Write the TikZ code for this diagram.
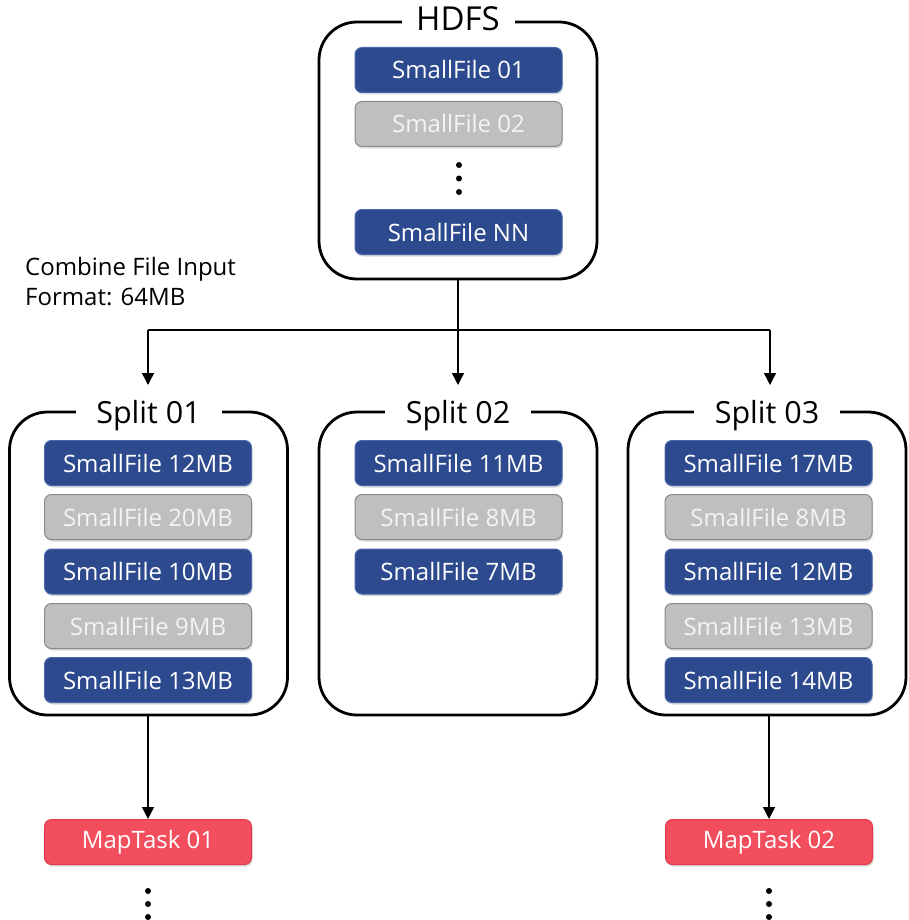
\documentclass[tikz,border=0pt]{standalone}
\usepackage{fontspec}
\setmainfont{Open Sans}
\usetikzlibrary{arrows.meta,shadows}
\definecolor{fileblue}{HTML}{2C4A8D}
\definecolor{fileedge}{HTML}{4867AC}
\definecolor{filegray}{HTML}{BFBFBF}
\definecolor{grayedge}{HTML}{8A8A8A}
\definecolor{graytext}{HTML}{F4F4F4}
\definecolor{taskred}{HTML}{F34E5D}
\definecolor{taskedge}{HTML}{DE3A4A}
\begin{document}
\begin{tikzpicture}[x=1pt,y=-1pt,
  filebox/.style={rounded corners=7pt, minimum width=207pt, minimum height=45pt,
    inner sep=0pt, text=white, line width=1pt, font=\fontsize{24}{24}\selectfont,
    drop shadow={opacity=0.3, shadow xshift=1pt, shadow yshift=-2pt}},
  bluefile/.style={filebox, fill=fileblue, draw=fileedge},
  grayfile/.style={filebox, fill=filegray, draw=grayedge, text=graytext},
  taskbox/.style={filebox, fill=taskred, draw=taskedge},
  group/.style={draw, line width=2.8pt, rounded corners=38pt, minimum width=278pt},
  grouptitle/.style={fill=white, anchor=base, inner xsep=0pt, inner ysep=0pt,
    font=\fontsize{30.5}{30.5}\selectfont},
  wire/.style={line width=1.4pt},
  flow/.style={wire, -{Triangle[width=12pt,length=12pt]}},
  dot/.style={circle, fill=black, inner sep=0pt, minimum size=6pt}]

\fill[white] (0,0) rectangle (908,920);
\useasboundingbox (0,0) rectangle (908,920);

% HDFS store
\node[group, minimum height=257pt] (hdfs) at (458,150.5) {};
\node[grouptitle, minimum width=113pt, font=\fontsize{33}{33}\selectfont] (hdfstitle)
  at ([yshift=-10pt]hdfs.north) {HDFS};
\node[bluefile] (h1) at (458.5,70) {SmallFile 01};
\node[grayfile] (h2) at (458.5,124) {SmallFile 02};
\node[dot] (hd1) at (459,165) {};
\node[dot] (hd2) at (459,178.5) {};
\node[dot] (hd3) at (459,192) {};
\node[bluefile] (hn) at (458.5,232) {SmallFile NN};

% input format note
\node[anchor=base west, align=left, inner sep=0pt,
  font=\fontsize{24}{30}\selectfont] (note) at (25,305)
  {Combine File Input\\Format: 64MB};

% splits
\node[group, minimum height=303pt] (s1) at (148.5,563.5) {};
\node[group, minimum height=303pt] (s2) at (458,563.5) {};
\node[group, minimum height=303pt] (s3) at (767,563.5) {};
\node[grouptitle, minimum width=146pt] (s1title) at ([yshift=-13pt]s1.north) {Split 01};
\node[grouptitle, minimum width=146pt] (s2title) at ([yshift=-13pt]s2.north) {Split 02};
\node[grouptitle, minimum width=146pt] (s3title) at ([yshift=-13pt]s3.north) {Split 03};

\node[bluefile] (a1) at (148,463) {SmallFile 12MB};
\node[grayfile] (a2) at (148,517) {SmallFile 20MB};
\node[bluefile] (a3) at (148,571.5) {SmallFile 10MB};
\node[grayfile] (a4) at (148,626) {SmallFile 9MB};
\node[bluefile] (a5) at (148,680) {SmallFile 13MB};

\node[bluefile] (b1) at (458.5,463) {SmallFile 11MB};
\node[grayfile] (b2) at (458.5,517) {SmallFile 8MB};
\node[bluefile] (b3) at (458.5,571.5) {SmallFile 7MB};

\node[bluefile] (c1) at (768.5,463) {SmallFile 17MB};
\node[grayfile] (c2) at (768.5,517) {SmallFile 8MB};
\node[bluefile] (c3) at (768.5,571.5) {SmallFile 12MB};
\node[grayfile] (c4) at (768.5,626) {SmallFile 13MB};
\node[bluefile] (c5) at (768.5,680) {SmallFile 14MB};

% map tasks
\node[taskbox] (m1) at (148,842) {MapTask 01};
\node[taskbox] (m2) at (769,842) {MapTask 02};
\node[dot] (md1) at (148,891) {};
\node[dot] (md2) at (148,904) {};
\node[dot] (md3) at (148,917) {};
\node[dot] (me1) at (769,891) {};
\node[dot] (me2) at (769,904) {};
\node[dot] (me3) at (769,917) {};

% distribution of files into splits
\coordinate (hub) at (458,330);
\coordinate (busL) at (148,330);
\coordinate (busR) at (770,330);
\draw[wire] (hdfs.south) -- (hub);
\draw[wire] (busL) -- (busR);
\draw[flow] (busL) -- (busL |- 0,385);
\draw[flow] (hub) -- (hub |- 0,385);
\draw[flow] (busR) -- (busR |- 0,385);

% splits feed map tasks
\draw[flow] (s1.south -| m1) -- (m1.north);
\draw[flow] (s3.south -| m2) -- (m2.north);
\end{tikzpicture}
\end{document}
